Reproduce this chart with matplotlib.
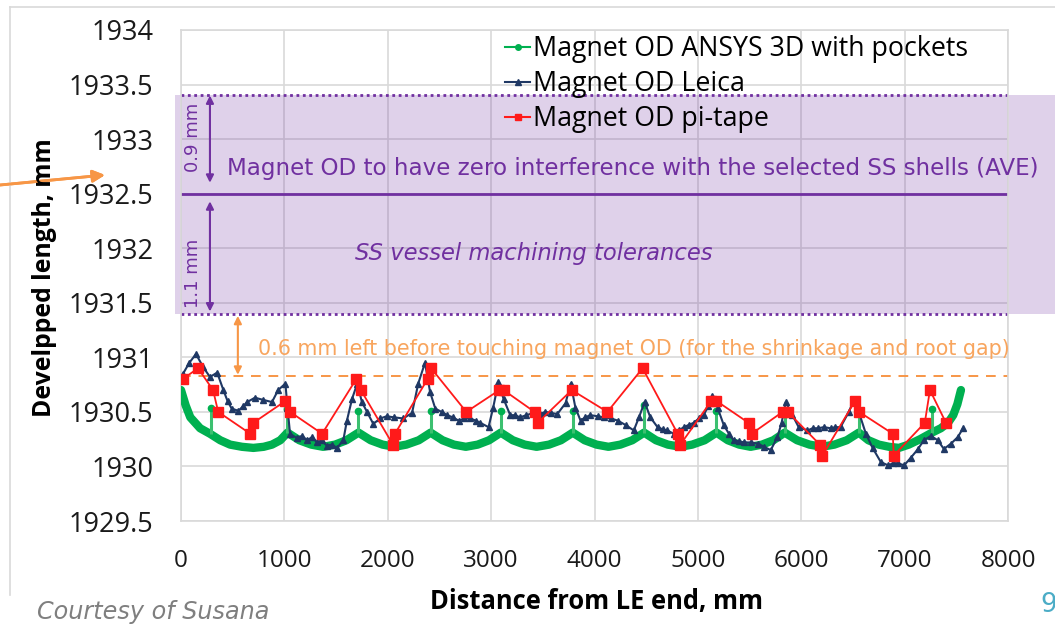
import numpy as np
import matplotlib.pyplot as plt
from matplotlib.lines import Line2D
from matplotlib.patches import Rectangle
import matplotlib.transforms as mtransforms

# ANSYS 3D model: smooth scalloped curve + pocket spikes
green_x = [0, 45, 90, 185, 280, 380, 475, 590, 700, 800, 880, 960, 1030,
           1145, 1260, 1375, 1490, 1600, 1717,
           1835, 1950, 2065, 2180, 2300, 2415,
           2530, 2640, 2755, 2870, 2980, 3094,
           3210, 3325, 3440, 3560, 3675, 3790,
           3905, 4020, 4135, 4250, 4365, 4480,
           4595, 4710, 4830, 4945, 5065, 5180,
           5290, 5400, 5510, 5620, 5730, 5840,
           5960, 6080, 6200, 6320, 6440, 6557,
           6650, 6750, 6850, 6945, 7040, 7150, 7265, 7350, 7420, 7470, 7510, 7545]
green_y = [1930.70, 1930.56, 1930.45, 1930.35, 1930.30, 1930.24, 1930.20, 1930.18,
           1930.17, 1930.18, 1930.20, 1930.24, 1930.31,
           1930.24, 1930.20, 1930.18, 1930.20, 1930.24, 1930.31,
           1930.24, 1930.20, 1930.18, 1930.20, 1930.24, 1930.31,
           1930.24, 1930.20, 1930.18, 1930.20, 1930.24, 1930.31,
           1930.24, 1930.20, 1930.18, 1930.20, 1930.24, 1930.31,
           1930.24, 1930.20, 1930.18, 1930.20, 1930.24, 1930.31,
           1930.24, 1930.20, 1930.18, 1930.20, 1930.24, 1930.31,
           1930.24, 1930.20, 1930.18, 1930.20, 1930.24, 1930.31,
           1930.24, 1930.20, 1930.18, 1930.20, 1930.24, 1930.31,
           1930.24, 1930.20, 1930.18, 1930.17, 1930.20, 1930.25, 1930.31,
           1930.35, 1930.40, 1930.47, 1930.57, 1930.70]
pocket_x = [290, 1030, 1717, 2415, 3094, 3790, 4480, 5180, 5840, 6557, 7265]
pocket_y = [1930.54, 1930.53, 1930.51, 1930.51, 1930.51, 1930.51, 1930.56,
            1930.51, 1930.51, 1930.50, 1930.53]

# Leica measurement
leica_x = [20, 80, 145, 215, 280, 350, 410, 450, 490, 555, 600, 640, 715, 795, 880,
           940, 1010, 1030, 1055, 1120, 1170, 1220, 1270, 1315, 1360, 1410, 1460,
           1510, 1570, 1605, 1655, 1705, 1750, 1800, 1860, 1927, 1990, 2060, 2150,
           2235, 2295, 2360, 2410, 2460, 2520, 2575, 2630, 2685, 2740, 2800, 2850,
           2895, 2975, 3020, 3070, 3120, 3185, 3230, 3280, 3340, 3410, 3470, 3525,
           3580, 3640, 3720, 3770, 3815, 3865, 3910, 3960, 4030, 4090, 4160, 4225,
           4300, 4380, 4430, 4485, 4540, 4610, 4660, 4705, 4765, 4815, 4865, 4910,
           4960, 5010, 5055, 5100, 5140, 5190, 5250, 5300, 5345, 5400, 5445, 5510,
           5580, 5640, 5705, 5770, 5810, 5850, 5915, 5975, 6060, 6110, 6160, 6220,
           6285, 6330, 6380, 6460, 6500, 6560, 6625, 6690, 6770, 6840, 6890, 6935,
           6995, 7060, 7130, 7185, 7255, 7320, 7380, 7450, 7515, 7565]
leica_y = [1930.85, 1930.95, 1931.03, 1930.91, 1930.82, 1930.86, 1930.70, 1930.60,
           1930.53, 1930.51, 1930.55, 1930.59, 1930.63, 1930.61, 1930.59, 1930.70,
           1930.76, 1930.54, 1930.30, 1930.26, 1930.28, 1930.24, 1930.27, 1930.22,
           1930.24, 1930.19, 1930.20, 1930.17, 1930.24, 1930.42, 1930.62, 1930.76,
           1930.59, 1930.50, 1930.39, 1930.44, 1930.46, 1930.45, 1930.44, 1930.49,
           1930.76, 1930.95, 1930.68, 1930.53, 1930.50, 1930.47, 1930.45, 1930.42,
           1930.44, 1930.44, 1930.42, 1930.40, 1930.36, 1930.54, 1930.77, 1930.62,
           1930.47, 1930.47, 1930.45, 1930.47, 1930.49, 1930.48, 1930.50, 1930.49,
           1930.48, 1930.58, 1930.76, 1930.54, 1930.42, 1930.45, 1930.47, 1930.46,
           1930.45, 1930.44, 1930.42, 1930.38, 1930.33, 1930.45, 1930.59, 1930.45,
           1930.36, 1930.34, 1930.33, 1930.30, 1930.33, 1930.36, 1930.38, 1930.40,
           1930.44, 1930.47, 1930.55, 1930.65, 1930.54, 1930.38, 1930.30, 1930.24,
           1930.23, 1930.22, 1930.22, 1930.21, 1930.18, 1930.15, 1930.27, 1930.40,
           1930.59, 1930.47, 1930.36, 1930.33, 1930.35, 1930.35, 1930.36, 1930.35,
           1930.36, 1930.36, 1930.50, 1930.59, 1930.49, 1930.30, 1930.17, 1930.04,
           1930.01, 1930.03, 1930.03, 1930.01, 1930.08, 1930.16, 1930.24, 1930.28,
           1930.24, 1930.16, 1930.21, 1930.27, 1930.35]

# pi-tape measurement
tape_x = [15, 165, 310, 360, 670, 700, 1010, 1055, 1365, 1695, 1740, 2050, 2070,
          2385, 2420, 2760, 3080, 3120, 3420, 3450, 3780, 4125, 4465, 4805, 4830,
          5130, 5180, 5490, 5520, 5820, 5870, 6180, 6205, 6520, 6560, 6885, 6895,
          7195, 7245, 7400]
tape_y = [1930.8, 1930.9, 1930.7, 1930.5, 1930.3, 1930.4, 1930.6, 1930.5, 1930.3,
          1930.8, 1930.7, 1930.2, 1930.3, 1930.8, 1930.9, 1930.5, 1930.7, 1930.7,
          1930.5, 1930.4, 1930.7, 1930.5, 1930.9, 1930.3, 1930.2, 1930.6, 1930.6,
          1930.4, 1930.3, 1930.5, 1930.5, 1930.2, 1930.1, 1930.6, 1930.5, 1930.3,
          1930.1, 1930.4, 1930.7, 1930.4]

band_low, band_high, ave_od = 1931.4, 1933.4, 1932.5
touch_level = 1930.83

GREEN = '#00b050'
NAVY = '#1f3864'
RED = '#ff1a1a'
PURPLE = '#7030a0'
ORANGE = '#f79646'
ORANGE_TXT = '#f8a55e'

plt.rcParams['font.family'] = ['Open Sans', 'DejaVu Sans']

fig = plt.figure(figsize=(10.55, 6.26), dpi=100)
W, H = 1055, 626
ax = fig.add_axes([181 / W, 1 - 521 / H, (1008 - 181) / W, (521 - 30) / H])

# outer chart frame (top and left edges visible)
fig.add_artist(Line2D([10 / W, 1], [1 - 7 / H, 1 - 7 / H], color='#d9d9d9', lw=1.2))
fig.add_artist(Line2D([10 / W, 10 / W], [1 - 7 / H, 1 - 595 / H], color='#d9d9d9', lw=1.2))

ax.set_xlim(0, 8000)
ax.set_ylim(1929.5, 1934)
ax.set_xticks(np.arange(0, 8001, 1000))
ax.set_yticks(np.arange(1929.5, 1934.01, 0.5))
ax.set_yticklabels(['1929.5', '1930', '1930.5', '1931', '1931.5', '1932',
                    '1932.5', '1933', '1933.5', '1934'])
ax.grid(True, color='#d9d9d9', lw=1.2, zorder=0)
ax.set_axisbelow(True)
for s in ax.spines.values():
    s.set_color('#d9d9d9')
    s.set_linewidth(1.2)
ax.tick_params(length=0, colors='#1a1a1a')
ax.tick_params(axis='y', pad=20, labelsize=19.5)
ax.tick_params(axis='x', pad=20, labelsize=17.5)

# tolerance band
trans = mtransforms.blended_transform_factory(ax.transAxes, ax.transData)
ax.add_patch(Rectangle((-0.007, band_low), 1.1, band_high - band_low, transform=trans,
                       facecolor=PURPLE, alpha=0.22, edgecolor='none', clip_on=False,
                       zorder=1))
ax.axhline(band_high, color=PURPLE, lw=2, dashes=(1, 1.3), zorder=2)
ax.axhline(band_low, color=PURPLE, lw=2, dashes=(1, 1.3), zorder=2)
ax.axhline(ave_od, color=PURPLE, lw=2, zorder=2)
ax.axhline(touch_level, color=ORANGE, lw=1.4, dashes=(5, 4), zorder=2)

arrow = dict(arrowstyle='<|-|>', color=PURPLE, lw=1.5, shrinkA=0, shrinkB=0,
             mutation_scale=11)
ax.annotate('', xy=(280, 1932.6), xytext=(280, band_high), arrowprops=arrow, zorder=3)
ax.annotate('', xy=(280, 1932.43), xytext=(280, 1931.42), arrowprops=arrow, zorder=3)
ax.annotate('', xy=(550, 1930.84), xytext=(550, 1931.38),
            arrowprops=dict(arrowstyle='<|-|>', color=ORANGE, lw=1.5, shrinkA=0,
                            shrinkB=0, mutation_scale=11), zorder=3)

ann = dict(family=['DejaVu Sans'], zorder=4)
ax.text(116, 1933.02, '0.9 mm', rotation=90, ha='center', va='center', fontsize=13,
        color=PURPLE, **ann)
ax.text(116, 1931.77, '1.1 mm', rotation=90, ha='center', va='center', fontsize=13,
        color=PURPLE, **ann)
ax.text(446, 1932.73,
        'Magnet OD to have zero interference with the selected SS shells (AVE)',
        ha='left', va='center', fontsize=16.55, color=PURPLE, clip_on=False, **ann)
ax.text(3410, 1931.95, 'SS vessel machining tolerances', ha='center', va='center',
        fontsize=16.3, color=PURPLE, style='italic', **ann)
ax.text(746, 1931.08,
        '0.6 mm left before touching magnet OD (for the shrinkage and root gap)',
        ha='left', va='center', fontsize=14.9, color=ORANGE_TXT, **ann)

# data series
ax.plot(green_x, green_y, color=GREEN, lw=6, solid_joinstyle='round',
        solid_capstyle='round', zorder=3)
pocket_base = np.interp(pocket_x, green_x, green_y)
ax.vlines(pocket_x, pocket_base, pocket_y, color='#3cc070', lw=2.2, zorder=3)
ax.plot(pocket_x, pocket_y, 'o', color=GREEN, ms=4.5, zorder=3)
ax.plot(leica_x, leica_y, color=NAVY, lw=1.5, marker='^', ms=4.5, zorder=4)
ax.plot(tape_x, tape_y, color=RED, lw=1.3, marker='s', ms=6.5, zorder=5)

handles = [Line2D([], [], color=GREEN, lw=1.5, marker='o', ms=4),
           Line2D([], [], color=NAVY, lw=1.5, marker='^', ms=4),
           Line2D([], [], color=RED, lw=1.5, marker='s', ms=4)]
labels = ['Magnet OD ANSYS 3D with pockets', 'Magnet OD Leica', 'Magnet OD pi-tape']
ax.legend(handles, labels, loc='upper left', bbox_to_anchor=(505 / W, 1 - 35 / H),
          bbox_transform=fig.transFigure, frameon=False, fontsize=19.3,
          handlelength=0.95, handletextpad=0.1, labelspacing=0.27, borderpad=0,
          borderaxespad=0)

fig.text(597 / W, 1 - 602 / H, 'Distance from LE end, mm', ha='center', va='center',
         fontsize=18.4, fontweight='bold')
fig.text(45 / W, 1 - 278 / H, 'Develpped length, mm', ha='center', va='center',
         rotation=90, fontsize=17.8, fontweight='bold')
fig.text(37 / W, 1 - 612 / H, 'Courtesy of Susana', ha='left', va='center',
         fontsize=17.2, style='italic', color='#7f7f7f', family=['DejaVu Sans'])
fig.text(1040 / W, 1 - 605 / H, '9', ha='left', va='center', fontsize=19,
         color='#4bacc6', family=['DejaVu Sans'])

# orange pointer from the left edge
fig.add_artist(plt.annotate('', xy=(105 / W, 1 - 175 / H), xytext=(0, 1 - 185 / H),
                            xycoords='figure fraction', textcoords='figure fraction',
                            arrowprops=dict(arrowstyle='-|>', color=ORANGE, lw=2,
                                            mutation_scale=18, shrinkA=0, shrinkB=0)))

fig.savefig('out.png', dpi=100)
